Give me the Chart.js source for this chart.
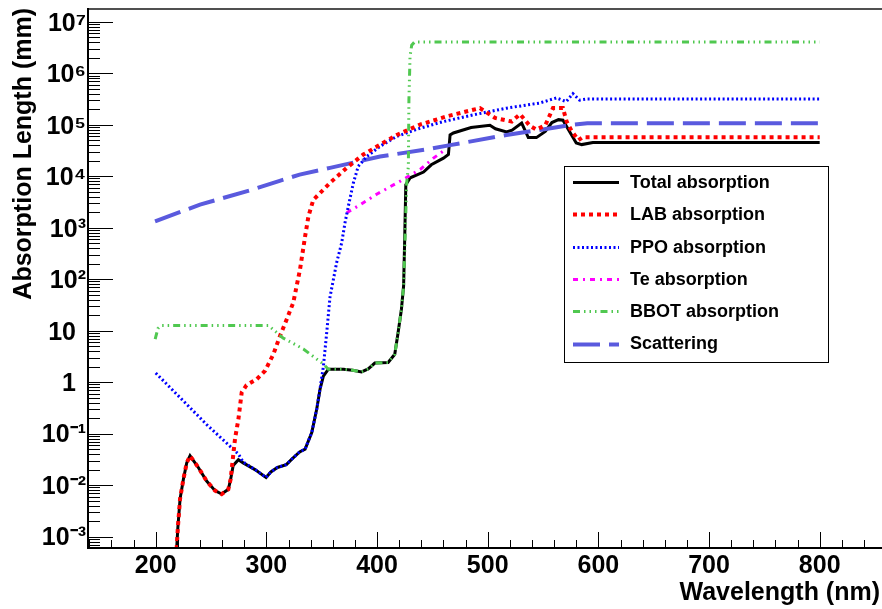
<!DOCTYPE html>
<html><head><meta charset="utf-8">
<script src="https://cdn.jsdelivr.net/npm/chart.js@4.4.1/dist/chart.umd.min.js"></script>
<style>html,body{margin:0;padding:0;background:#fff;} canvas{display:block;}</style>
</head><body>
<canvas id="c" width="882" height="609"></canvas>
<script>
const FONT = '"Liberation Sans", Arial, Helvetica, sans-serif';
const seriesNames = ['Total absorption','LAB absorption','PPO absorption','Te absorption','BBOT absorption','Scattering'];
const xTickLabels = ['200','300','400','500','600','700','800'];
const yTickLabels = ['10\u207B\u00B3','10\u207B\u00B2','10\u207B\u00B9','1\u2009\u2009','10\u2009\u2009','10\u00B2','10\u00B3','10\u2074','10\u2075','10\u2076','10\u2077'];
const xAxisTitle = 'Wavelength (nm)';
const yAxisTitle = 'Absorption Length (mm)';

const totalWl  = [218.5,220,222,225,228,231,238.5,246,253.6,259.6,265.6,267.7,270,274.7,279,289.7,299.7,304,310,318,323,330,335,341,345.5,348.5,351.5,356,369.5,378,386,392,398,410,416,419,422,424,425,426,430,442,449,460,464.5,466,469,485,502,507,517,522,530.7,536.7,544,552,558,564,568,573,580,585,595,800];
const totalLen = [0.0004,0.0015,0.0054,0.013,0.027,0.037,0.022,0.012,0.0078,0.0067,0.0083,0.013,0.024,0.031,0.027,0.020,0.014,0.018,0.022,0.025,0.032,0.044,0.05,0.105,0.30,0.73,1.3,1.78,1.78,1.7,1.58,1.8,2.34,2.4,3.47,9.1,25.7,74,630,6800,9300,12000,16600,22400,26300,63000,69000,88000,97000,83000,72000,78000,107000,56000,56000,74000,110000,125000,122000,80000,44000,41000,45000,45000];

const labWl  = [218.5,220,222,225,228,231,238.5,246,253.6,259.6,265.6,267.7,269.5,271.7,274.7,277.7,282,291.3,298.8,306.3,312.3,318.4,324.3,330.4,335,338,342.4,348.5,357.5,372.6,387.6,402.7,417.8,438.8,463,487,493,506.6,521.7,529.2,533.7,538,544,552,559,568,571.3,576,582,586,800];
const labLen = [0.0004,0.0015,0.0054,0.013,0.027,0.037,0.022,0.012,0.0078,0.0067,0.0083,0.013,0.03,0.08,0.19,0.63,0.87,1.14,1.66,3.47,7.9,16.6,35,155,680,1660,3470,4700,7400,14500,26300,40700,63000,100000,145000,195000,209000,135000,115000,160000,123000,95000,80000,97000,210000,210000,115000,74000,50000,57000,57000];

const ppoWl  = [200,222,246,274.7,279,289.7,299.7,304,310,318,323,330,335,341,345.5,348.5,351.5,354.5,357.5,363.5,368,371,374,378.6,383,390.7,402.7,417.8,438.8,460,487,517,547,562,571,577,583,590,800];
const ppoLen = [1.5,0.5,0.15,0.04,0.028,0.02,0.014,0.018,0.022,0.025,0.032,0.044,0.05,0.105,0.3,0.75,2.0,9.1,45,210,500,1230,2570,7400,15500,24000,38000,59000,85000,115000,155000,209000,263000,330000,280000,400000,300000,316000,316000];

const teWl  = [372.6,385,400,421,439,451,461];
const teLen = [1950,2800,4500,8000,13500,22400,32000];

const bbotWl  = [199.5,202,205,301.8,315,333.4,351.5,356,369.5,378,386,392,398,410,416,419,422,424,425.3,426.8,428.3,428.8,429.8,431.3,434,800];
const bbotLen = [6.8,11,12.6,12.6,7.2,4.4,2.24,1.78,1.78,1.7,1.58,1.8,2.34,2.4,3.47,9.1,25.7,74,590,7400,15500,300000,2100000,3500000,4050000,4050000];

const scatWl  = [199.4,240,285,312,330,357.5,402.7,448,466,517,547,577,590,800];
const scatLen = [1320,2800,5300,8100,10700,14500,24000,34000,40000,63000,79000,100000,107000,107000];

function pts(xs, ys) { return xs.map((x, i) => ({ x: x, y: ys[i] })); }

const datasets = [
  { label: seriesNames[0], data: pts(totalWl, totalLen), borderColor: '#000000', borderWidth: 3, borderDash: [], order: 10 },
  { label: seriesNames[1], data: pts(labWl, labLen), borderColor: '#ff0000', borderWidth: 4, borderDash: [4, 4], order: 2 },
  { label: seriesNames[2], data: pts(ppoWl, ppoLen), borderColor: '#0000ff', borderWidth: 3, borderDash: [2, 2.5], order: 3 },
  { label: seriesNames[3], data: pts(teWl, teLen), borderColor: '#ff00ff', borderWidth: 3, borderDash: [5, 5, 2, 5], order: 4 },
  { label: seriesNames[4], data: pts(bbotWl, bbotLen), borderColor: '#50c850', borderWidth: 3, borderDash: [7, 4, 1.5, 4, 1.5, 4, 1.5, 4], order: 1 },
  { label: seriesNames[5], data: pts(scatWl, scatLen), borderColor: '#5a5ade', borderWidth: 4, borderDash: [27, 9], order: 5 }
];
datasets.forEach(d => { d.fill = false; d.pointRadius = 0; d.tension = 0; d.borderCapStyle = 'butt'; });

function isPow10(v) { const l = Math.log10(v); return Math.abs(l - Math.round(l)) < 1e-9; }

const decor = {
  id: 'decor',
  afterDraw(chart) {
    const ctx = chart.ctx, a = chart.chartArea;
    const xs = chart.scales.x, ys = chart.scales.y;
    ctx.save();
    ctx.fillStyle = '#505050';
    ctx.fillRect(a.left, a.top - 1, a.right - a.left, 2);
    ctx.fillStyle = '#000';
    ctx.fillRect(a.left - 1, a.top - 1, 2, a.bottom - a.top + 2);
    ctx.fillRect(a.left - 1, a.bottom - 1, a.right - a.left + 1, 2);
    ctx.strokeStyle = '#000'; ctx.lineWidth = 1;
    ctx.beginPath();
    xs.ticks.forEach(t => {
      const p = Math.round(xs.getPixelForValue(t.value)) + 0.5;
      const len = (t.value % 100 === 0) ? 16 : 8;
      ctx.moveTo(p, a.bottom); ctx.lineTo(p, a.bottom - len);
    });
    ys.ticks.forEach(t => {
      const p = Math.round(ys.getPixelForValue(t.value)) + 0.5;
      const len = isPow10(t.value) ? 25 : 12;
      ctx.moveTo(a.left, p); ctx.lineTo(a.left + len, p);
    });
    ctx.stroke();
    ctx.fillStyle = '#000';
    ctx.font = 'bold 25px ' + FONT;
    ctx.textAlign = 'right'; ctx.textBaseline = 'alphabetic';
    ctx.fillText(xAxisTitle, 880, 600);
    ctx.save();
    ctx.translate(31, 8);
    ctx.rotate(-Math.PI / 2);
    ctx.fillText(yAxisTitle, 0, 0);
    ctx.restore();
    const lx = 564, ly = 166, lw = 264, lh = 196;
    ctx.fillStyle = '#fff';
    ctx.fillRect(lx, ly, lw, lh);
    ctx.strokeStyle = '#000'; ctx.lineWidth = 1;
    ctx.strokeRect(lx + 0.5, ly + 0.5, lw, lh);
    ctx.font = 'bold 18px ' + FONT;
    ctx.textAlign = 'left'; ctx.textBaseline = 'middle';
    chart.data.datasets.forEach((d, i) => {
      const y = 182 + i * 32.3;
      ctx.save();
      ctx.strokeStyle = d.borderColor; ctx.lineWidth = d.borderWidth;
      ctx.setLineDash(d.borderDash || []);
      ctx.lineCap = 'butt';
      ctx.beginPath(); ctx.moveTo(573, Math.round(y) + 0.5); ctx.lineTo(619, Math.round(y) + 0.5); ctx.stroke();
      ctx.restore();
      ctx.fillStyle = '#000';
      ctx.fillText(d.label, 630, y + 1);
    });
    ctx.restore();
  }
};

new Chart(document.getElementById('c').getContext('2d'), {
  type: 'line',
  data: { datasets: datasets },
  options: {
    responsive: false, animation: false, devicePixelRatio: 1,
    layout: { padding: { top: 9, right: 0, left: 0, bottom: 0 } },
    plugins: { legend: { display: false }, tooltip: { enabled: false } },
    scales: {
      x: {
        type: 'linear', min: 138.8, max: 856.3,
        grid: { display: false, drawTicks: false }, border: { display: false },
        afterBuildTicks: s => { const t = []; for (let v = 140; v <= 840; v += 20) t.push({ value: v }); s.ticks = t; },
        afterFit: s => { s.height = 61; s.paddingLeft = 0; s.paddingRight = 0; },
        ticks: {
          autoSkip: false, maxRotation: 0, padding: 3, color: '#000',
          font: { family: FONT, size: 25, weight: 'bold' },
          callback: v => (v % 100 === 0 && v >= 200 && v <= 800) ? xTickLabels[(v - 200) / 100] : ''
        }
      },
      y: {
        type: 'logarithmic', min: 6.31e-4, max: 1.762e7,
        grid: { display: false, drawTicks: false }, border: { display: false },
        afterBuildTicks: s => {
          const t = [];
          for (let e = -4; e <= 7; e++) for (let m = 1; m <= 9; m++) {
            const v = m * Math.pow(10, e);
            if (v >= 6.31e-4 && v <= 1.762e7) t.push({ value: v });
          }
          s.ticks = t;
        },
        afterFit: s => { s.width = 88; s.paddingTop = 0; s.paddingBottom = 0; },
        ticks: {
          autoSkip: false, padding: 2, labelOffset: 2, color: '#000',
          font: { family: FONT, size: 25, weight: 'bold' },
          callback: v => isPow10(v) ? yTickLabels[Math.round(Math.log10(v)) + 3] : ''
        }
      }
    }
  },
  plugins: [decor]
});
</script>
</body></html>
